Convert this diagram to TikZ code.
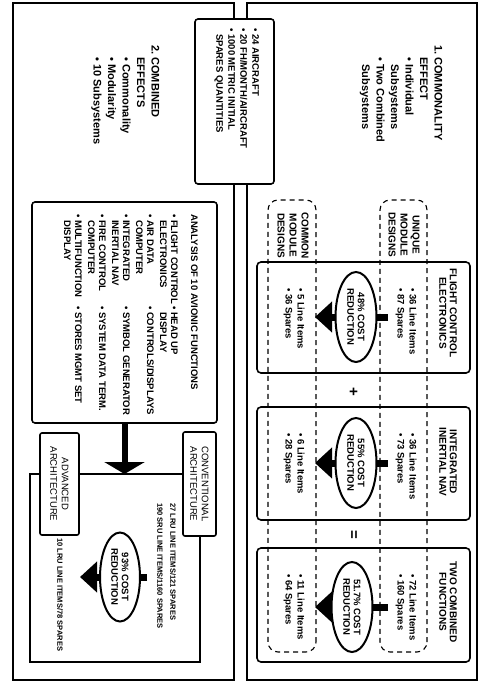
\documentclass[tikz,border=0pt]{standalone}
\usepackage{fontspec}
\setmainfont{Liberation Sans}
\usetikzlibrary{shapes.geometric,arrows.meta}

\tikzset{
  frame/.style={draw, line width=1.6pt},
  infobox/.style={draw, fill=white, line width=1.6pt, rounded corners=3pt},
  tabbox/.style={draw, fill=white, line width=1.6pt, rounded corners=2pt, inner sep=1pt,
    align=center, font=\fontsize{9.5}{11.5}\selectfont},
  fnbox/.style={draw, line width=1.6pt, rounded corners=4pt, minimum width=112pt, minimum height=213pt},
  designcol/.style={draw, line width=1.1pt, dash pattern=on 5pt off 4pt, rounded corners=10pt},
  costell/.style={ellipse, draw, fill=white, line width=2pt, inner sep=0pt, minimum width=90pt,
    minimum height=41pt, align=center, font=\fontsize{9.5}{10.5}\selectfont\bfseries},
  costarrow/.style={line width=7pt, -{Triangle[width=30pt,length=17pt]}},
  feedarrow/.style={line width=6pt, -{Triangle[width=40pt,length=12pt]}},
  txt/.style={inner sep=0pt, font=\fontsize{9.5}{12}\selectfont\bfseries},
  smalltxt/.style={inner sep=0pt, font=\fontsize{7.5}{13}\selectfont\bfseries},
  headtxt/.style={inner sep=0pt, font=\fontsize{11}{14.5}\selectfont\bfseries},
  signtxt/.style={inner sep=0pt, font=\fontsize{15}{15}\selectfont\bfseries},
}

\begin{document}
\begin{tikzpicture}[x=1pt,y=1pt,rotate=-90,transform shape]
\useasboundingbox (0,0) rectangle (685,479);

\draw[frame] (3,13) rectangle (680,234);
\draw[frame] (3,247) rectangle (680,477);

\node[infobox, minimum width=165pt, minimum height=79pt] (fleet) at (101.5,234.5) {};
\node[txt, anchor=north west] (fleettxt) at (28,261) {%
  \begin{tabular}{@{}l@{\ }l@{}}
  \textbullet & 24 AIRCRAFT\\
  \textbullet & 20 FH/MONTH/AIRCRAFT\\
  \textbullet & 1000 METRIC INITIAL\\
              & SPARES QUANTITIES
  \end{tabular}};

\node[headtxt, anchor=north west] (commhead) at (45,445) {%
  \begin{tabular}{@{}l@{\ }l@{}}
  1. & COMMONALITY\\
     & EFFECT\\
     & \textbullet\ Individual\\
     & \phantom{\textbullet\ }Subsystems\\
     & \textbullet\ Two Combined\\
     & \phantom{\textbullet\ }Subsystems
  \end{tabular}};

\node[headtxt, anchor=north west] (combhead) at (45,162) {%
  \begin{tabular}{@{}l@{\ }l@{}}
  2. & COMBINED\\
     & EFFECTS\\
     & \textbullet\ Commonality\\
     & \textbullet\ Modularity\\
     & \textbullet\ 10 Subsystems
  \end{tabular}};

\node[designcol, minimum width=452pt, minimum height=48pt] (commoncol) at (426,292) {};
\node[designcol, minimum width=452pt, minimum height=47pt] (uniquecol) at (426,403.5) {};
\node[txt, align=center, anchor=west, font=\fontsize{10}{12}\selectfont\bfseries] (commonlbl) at (212,293) {COMMON\\MODULE\\DESIGNS};
\node[txt, align=center, anchor=west, font=\fontsize{10}{12}\selectfont\bfseries] (uniquelbl) at (212,404) {UNIQUE\\MODULE\\DESIGNS};

\node[fnbox, minimum width=111pt] (fce) at (317.5,363.5) {};
\node[fnbox, minimum width=113pt] (inav) at (463.5,363.5) {};
\node[fnbox, minimum width=114pt] (combfn) at (605,363.5) {};

\node[txt, align=center, font=\fontsize{10}{10.5}\selectfont\bfseries] (fcetitle) at (313,448) {FLIGHT CONTROL\\ELECTRONICS};
\node[txt, align=center, font=\fontsize{10}{10.5}\selectfont\bfseries] (inavtitle) at (462,448) {INTEGRATED\\INERTIAL NAV};
\node[txt, align=center, font=\fontsize{10}{10.5}\selectfont\bfseries] (combtitle) at (602,448) {TWO COMBINED\\FUNCTIONS};

\node[txt, anchor=west, align=left] (fceunique) at (288,406) {\textbullet\ 36 Line Items\\\textbullet\ 87 Spares};
\node[txt, anchor=west, align=left] (fcecommon) at (288,294) {\textbullet\ 5 Line Items\\\textbullet\ 36 Spares};
\node[txt, anchor=west, align=left] (inavunique) at (433,406) {\textbullet\ 36 Line Items\\\textbullet\ 73 Spares};
\node[txt, anchor=west, align=left] (inavcommon) at (433,294) {\textbullet\ 6 Line Items\\\textbullet\ 28 Spares};
\node[txt, anchor=west, align=left] (combunique) at (574,406) {\textbullet\ 72 Line Items\\\textbullet\ 160 Spares};
\node[txt, anchor=west, align=left] (combcommon) at (574,294) {\textbullet\ 11 Line Items\\\textbullet\ 64 Spares};

\coordinate (fcetail) at (317,388);
\coordinate (fcetip) at (317,315);
\coordinate (inavtail) at (463,388);
\coordinate (inavtip) at (463,315);
\coordinate (combtail) at (607,388);
\coordinate (combtip) at (607,315);
\draw[costarrow] (fcetail) -- (fcetip);
\draw[costarrow] (inavtail) -- (inavtip);
\draw[costarrow] (combtail) -- (combtip);
\node[costell] (fcecost) at (317,356) {48\% COST\\REDUCTION};
\node[costell] (inavcost) at (463,356) {55\% COST\\REDUCTION};
\node[costell] (combcost) at (607,352) {51.7\% COST\\REDUCTION};

\node[signtxt] (plus) at (392,353) {+};
\node[signtxt] (equals) at (535,353) {=};

\node[draw, line width=1.6pt, rounded corners=3pt, minimum width=221pt, minimum height=185pt] (analysis) at (312.5,124.5) {};
\node[txt, anchor=north west, font=\fontsize{9.5}{11}\selectfont\bfseries] (analysistxt) at (214,199) {%
  \begin{tabular}{@{}l@{\ }p{86pt}@{}l@{\ }l@{}}
  \multicolumn{4}{@{}l@{}}{ANALYSIS OF 10 AVIONIC FUNCTIONS}\\[9pt]
  \textbullet & FLIGHT CONTROL & \textbullet & HEAD UP\\
              & ELECTRONICS    &             & DISPLAY\\[2pt]
  \textbullet & AIR DATA       & \textbullet & CONTROLS/DISPLAYS\\
              & COMPUTER       &             & \\[2pt]
  \textbullet & INTEGRATED     & \textbullet & SYMBOL GENERATOR\\
              & INERTIAL NAV   &             & \\[2pt]
  \textbullet & FIRE CONTROL   & \textbullet & SYSTEM DATA TERM.\\
              & COMPUTER       &             & \\[2pt]
  \textbullet & MULTIFUNCTION  & \textbullet & STORES MGMT SET\\
              & DISPLAY        &             &
  \end{tabular}};

\node[draw, line width=1.6pt, minimum width=188pt, minimum height=170pt] (result) at (568,115) {};
\coordinate (feedtip) at (474,124.5);
\draw[feedarrow] (analysis.east) -- (feedtip);
\node[tabbox, minimum width=104pt, minimum height=33pt] (conv) at (484,199.5) {CONVENTIONAL\\ARCHITECTURE};
\node[tabbox, minimum width=102pt, minimum height=39pt] (adv) at (484,59.5) {ADVANCED\\ARCHITECTURE};

\node[smalltxt, anchor=north west, align=left] (convtxt) at (503,176) {27 LRU LINE ITEMS/121 SPARES\\190 SRU LINE ITEMS/1160 SPARES};
\node[smalltxt, anchor=west] (advtxt) at (538,60) {10 LRU LINE ITEMS/78 SPARES};

\coordinate (restail) at (577,147);
\coordinate (restip) at (577,80);
\draw[costarrow] (restail) -- (restip);
\node[costell, minimum width=89pt, minimum height=40pt] (rescost) at (577,120) {93\% COST\\REDUCTION};
\end{tikzpicture}
\end{document}
